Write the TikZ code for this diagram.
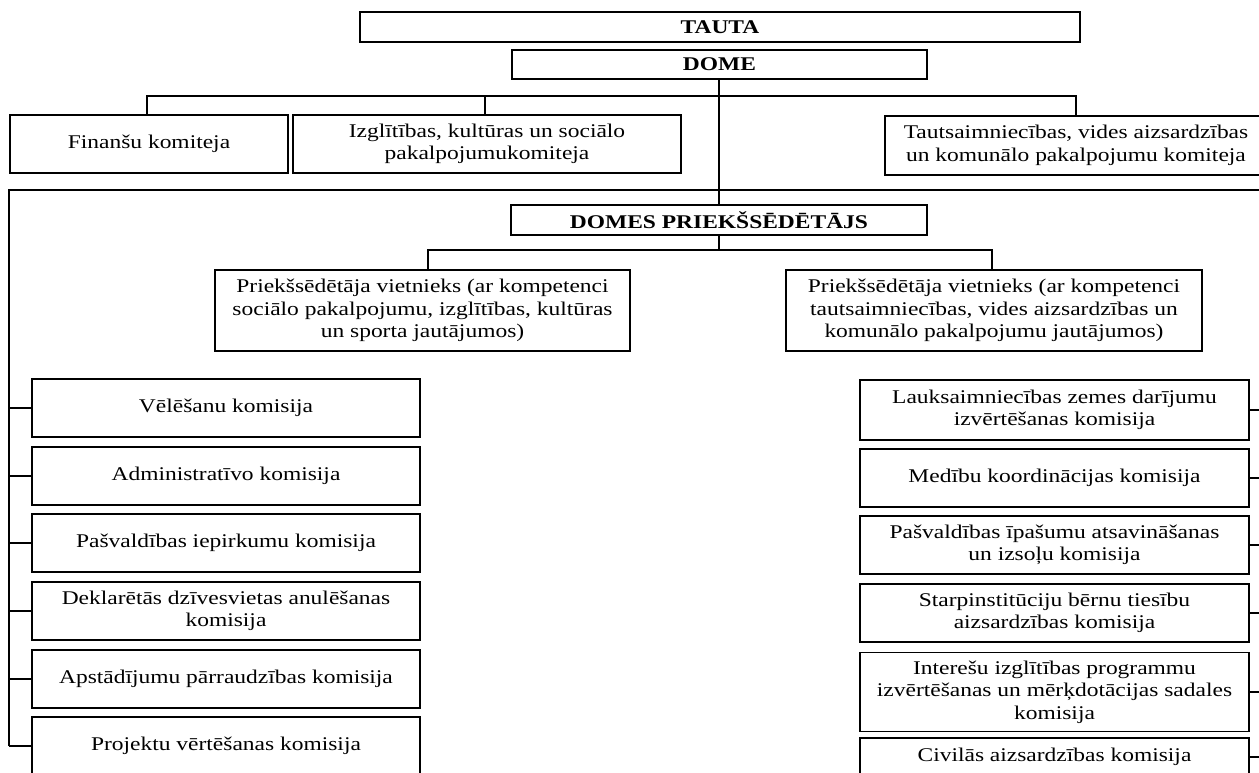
\documentclass[tikz,border=0pt]{standalone}
\usepackage{fontspec}
\setmainfont{Liberation Serif}[FakeStretch=1.21]
\tikzset{
	box/.style 2 args={draw,line width=1.2pt,align=center,inner sep=2pt,minimum width=#1,minimum height=#2,font=\fontsize{19.4}{22.5}\selectfont},
	hbox/.style 2 args={box={#1}{#2},font=\fontsize{19.4}{22.5}\selectfont\bfseries},
	link/.style={line width=1.2pt}
}

\begin{document}
\begin{tikzpicture}[x=1pt,y=-1pt]
	\useasboundingbox (0,0) rectangle (1259,772);
	\clip (0,0) rectangle (1259,772);

	\node [hbox={720}{30}] (tauta) at (720,27) {TAUTA};
	\node [hbox={415}{29}] (dome) at (719.5,64.5) {DOME};

	\node [box={278}{58}] (fin) at (149,144) {Finanšu komiteja};
	\node [box={388}{58}] (izgl) at (487,144) {Izglītības, kultūras un sociālo\\pakalpojumukomiteja};
	\node [box={382}{59}] (taut) at (1076,145.5) {Tautsaimniecības, vides aizsardzības\\un komunālo pakalpojumu komiteja};

	\node [hbox={416}{30}] (chair) at (719,220) {DOMES PRIEKŠSĒDĒTĀJS};
	\node [box={415}{81}] (viceL) at (422.5,310.5) {Priekšsēdētāja vietnieks (ar kompetenci\\sociālo pakalpojumu, izglītības, kultūras\\un sporta jautājumos)};
	\node [box={416}{81}] (viceR) at (994,310.5) {Priekšsēdētāja vietnieks (ar kompetenci\\tautsaimniecības, vides aizsardzības un\\komunālo pakalpojumu jautājumos)};

	% left column
	\node [box={388}{58}] (L1) at (226,408) {Vēlēšanu komisija};
	\node [box={388}{58}] (L2) at (226,476) {Administratīvo komisija};
	\node [box={388}{58}] (L3) at (226,543) {Pašvaldības iepirkumu komisija};
	\node [box={388}{58}] (L4) at (226,611) {Deklarētās dzīvesvietas anulēšanas\\komisija};
	\node [box={388}{58}] (L5) at (226,679) {Apstādījumu pārraudzības komisija};
	\node [box={388}{58}] (L6) at (226,746) {Projektu vērtēšanas komisija};

	% right column
	\node [box={389}{60}] (R1) at (1054.5,410) {Lauksaimniecības zemes darījumu\\izvērtēšanas komisija};
	\node [box={389}{58}] (R2) at (1054.5,478) {Medību koordinācijas komisija};
	\node [box={389}{58}] (R3) at (1054.5,545) {Pašvaldības īpašumu atsavināšanas\\un izsoļu komisija};
	\node [box={389}{58}] (R4) at (1054.5,613) {Starpinstitūciju bērnu tiesību\\aizsardzības komisija};
	\node [box={389}{79}] (R5) at (1054.5,692) {Interešu izglītības programmu\\izvērtēšanas un mērķdotācijas sadales\\komisija};
	\node [box={389}{38}] (R6) at (1054.5,757) {Civilās aizsardzības komisija};

	\coordinate (axis) at (719,190);
	\coordinate (kL) at (147,96);
	\coordinate (kM) at (485,96);
	\coordinate (kR) at (1076,96);
	\coordinate (mL) at (9,190);
	\coordinate (mR) at (1260,190);
	\coordinate (vL) at (428,250);
	\coordinate (vR) at (992,250);

	\draw [link] (axis |- dome.south) -- (axis |- chair.north);
	\draw [link] (kL |- fin.north) -- (kL) -- (kR) -- (kR |- taut.north);
	\draw [link] (kM) -- (kM |- izgl.north);
	\draw [link] (mL |- L6.west) -- (mL) -- (mR) -- ++(0,600);
	\draw [link] (axis |- chair.south) -- (axis |- vL);
	\draw [link] (vL |- viceL.north) -- (vL) -- (vR) -- (vR |- viceR.north);

	\foreach \n in {1,...,6}
		\draw [link] (mL |- L\n.west) -- (L\n.west);
	\foreach \n in {1,...,6}
		\draw [link] (mR |- R\n.east) -- (R\n.east);
\end{tikzpicture}
\end{document}
